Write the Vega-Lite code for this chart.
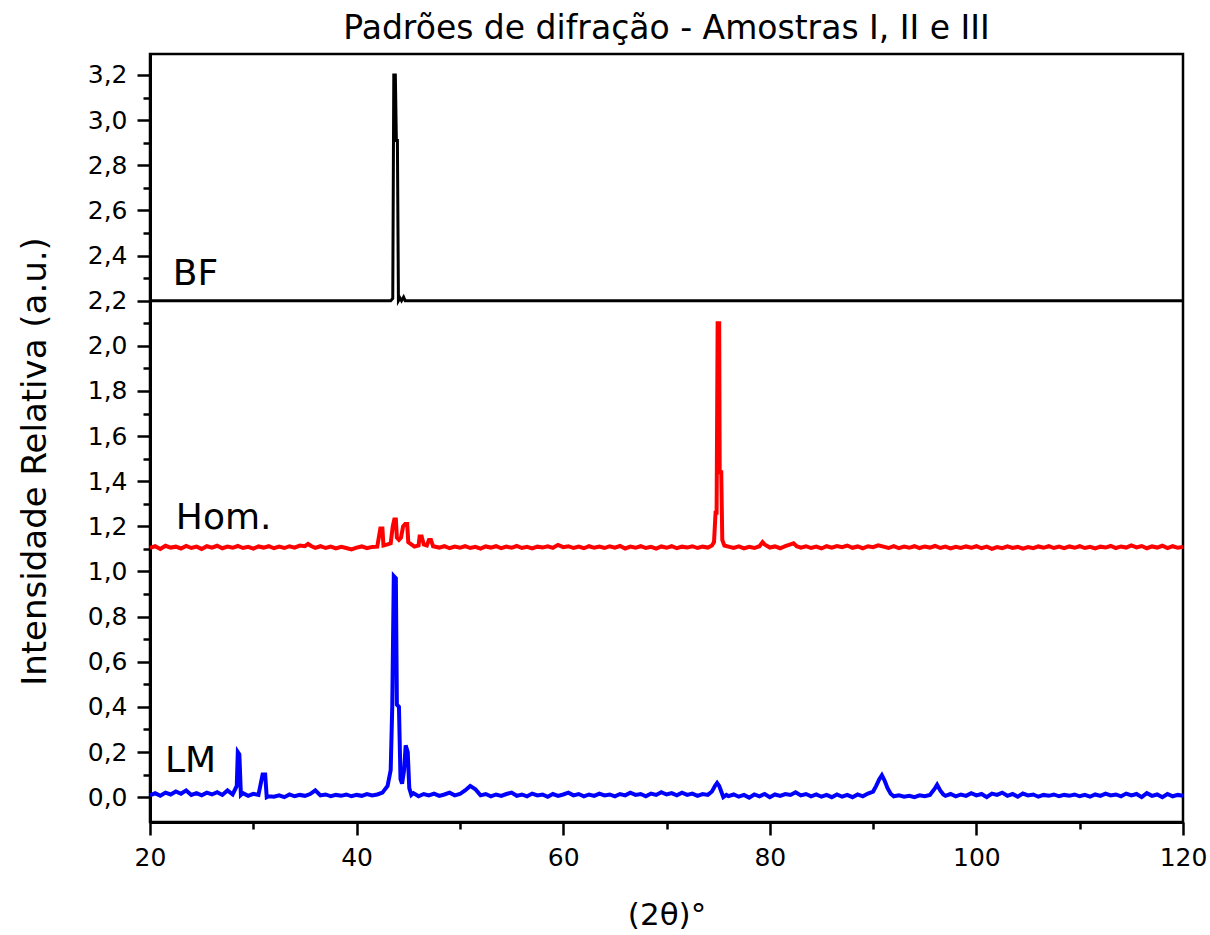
{
  "$schema": "https://vega.github.io/schema/vega-lite/v6.json",
  "width": 1033,
  "height": 768,
  "autosize": {"type": "none"},
  "padding": {"left": 150, "top": 54, "right": 27, "bottom": 113},
  "background": "white",
  "title": {"text": "Padrões de difração - Amostras I, II e III", "fontSize": 33, "font": "DejaVu Sans", "fontWeight": "normal", "color": "black", "anchor": "middle", "offset": 8},
  "datasets": {
    "bf": [
      {"x": 20, "y": 2.2}, {"x": 43.3, "y": 2.2}, {"x": 43.5, "y": 2.21}, {"x": 43.6, "y": 3.2}, {"x": 43.75, "y": 3.2}, {"x": 43.85, "y": 2.91}, {"x": 43.95, "y": 2.91}, {"x": 44.05, "y": 2.2}, {"x": 44.2, "y": 2.212}, {"x": 44.35, "y": 2.2}, {"x": 44.55, "y": 2.216}, {"x": 44.7, "y": 2.2}, {"x": 120, "y": 2.2}
    ],
    "hom": [
      {"x": 20, "y": 1.105}, {"x": 20.5, "y": 1.112}, {"x": 21, "y": 1.1}, {"x": 21.5, "y": 1.114}, {"x": 22, "y": 1.106}, {"x": 22.5, "y": 1.11}, {"x": 23, "y": 1.102}, {"x": 23.5, "y": 1.113}, {"x": 24, "y": 1.104}, {"x": 24.5, "y": 1.11}, {"x": 25, "y": 1.1}, {"x": 25.5, "y": 1.112}, {"x": 26, "y": 1.106}, {"x": 26.5, "y": 1.114}, {"x": 27, "y": 1.103}, {"x": 27.5, "y": 1.11}, {"x": 28, "y": 1.105}, {"x": 28.5, "y": 1.113}, {"x": 29, "y": 1.104}, {"x": 29.5, "y": 1.109}, {"x": 30, "y": 1.101}, {"x": 30.5, "y": 1.111}, {"x": 31, "y": 1.106}, {"x": 31.5, "y": 1.112}, {"x": 32, "y": 1.103}, {"x": 32.5, "y": 1.11}, {"x": 33, "y": 1.104}, {"x": 33.5, "y": 1.112}, {"x": 34, "y": 1.106}, {"x": 34.5, "y": 1.115}, {"x": 35, "y": 1.112}, {"x": 35.3, "y": 1.122}, {"x": 35.6, "y": 1.113}, {"x": 36, "y": 1.105}, {"x": 36.5, "y": 1.112}, {"x": 37, "y": 1.104}, {"x": 37.5, "y": 1.11}, {"x": 38, "y": 1.102}, {"x": 38.5, "y": 1.109}, {"x": 39, "y": 1.104}, {"x": 39.5, "y": 1.098}, {"x": 40, "y": 1.106}, {"x": 40.5, "y": 1.111}, {"x": 41, "y": 1.103}, {"x": 41.5, "y": 1.109}, {"x": 42, "y": 1.11}, {"x": 42.3, "y": 1.19}, {"x": 42.5, "y": 1.19}, {"x": 42.6, "y": 1.115}, {"x": 43, "y": 1.12}, {"x": 43.3, "y": 1.125}, {"x": 43.5, "y": 1.2}, {"x": 43.65, "y": 1.23}, {"x": 43.8, "y": 1.23}, {"x": 43.9, "y": 1.15}, {"x": 44.1, "y": 1.14}, {"x": 44.3, "y": 1.15}, {"x": 44.5, "y": 1.2}, {"x": 44.7, "y": 1.21}, {"x": 44.9, "y": 1.21}, {"x": 45, "y": 1.13}, {"x": 45.3, "y": 1.12}, {"x": 45.6, "y": 1.11}, {"x": 46, "y": 1.115}, {"x": 46.1, "y": 1.155}, {"x": 46.3, "y": 1.155}, {"x": 46.5, "y": 1.12}, {"x": 46.8, "y": 1.115}, {"x": 47, "y": 1.14}, {"x": 47.2, "y": 1.14}, {"x": 47.4, "y": 1.112}, {"x": 48, "y": 1.106}, {"x": 48.5, "y": 1.112}, {"x": 49, "y": 1.103}, {"x": 49.5, "y": 1.11}, {"x": 50, "y": 1.105}, {"x": 50.5, "y": 1.112}, {"x": 51, "y": 1.104}, {"x": 51.5, "y": 1.109}, {"x": 52, "y": 1.101}, {"x": 52.5, "y": 1.111}, {"x": 53, "y": 1.106}, {"x": 53.5, "y": 1.112}, {"x": 54, "y": 1.103}, {"x": 54.5, "y": 1.11}, {"x": 55, "y": 1.105}, {"x": 55.5, "y": 1.113}, {"x": 56, "y": 1.104}, {"x": 56.5, "y": 1.109}, {"x": 57, "y": 1.102}, {"x": 57.5, "y": 1.11}, {"x": 58, "y": 1.106}, {"x": 58.5, "y": 1.112}, {"x": 59, "y": 1.105}, {"x": 59.5, "y": 1.118}, {"x": 60, "y": 1.108}, {"x": 60.5, "y": 1.112}, {"x": 61, "y": 1.104}, {"x": 61.5, "y": 1.11}, {"x": 62, "y": 1.103}, {"x": 62.5, "y": 1.112}, {"x": 63, "y": 1.105}, {"x": 63.5, "y": 1.11}, {"x": 64, "y": 1.104}, {"x": 64.5, "y": 1.112}, {"x": 65, "y": 1.106}, {"x": 65.5, "y": 1.113}, {"x": 66, "y": 1.102}, {"x": 66.5, "y": 1.11}, {"x": 67, "y": 1.105}, {"x": 67.5, "y": 1.112}, {"x": 68, "y": 1.104}, {"x": 68.5, "y": 1.109}, {"x": 69, "y": 1.101}, {"x": 69.5, "y": 1.111}, {"x": 70, "y": 1.105}, {"x": 70.5, "y": 1.112}, {"x": 71, "y": 1.103}, {"x": 71.5, "y": 1.11}, {"x": 72, "y": 1.106}, {"x": 72.5, "y": 1.112}, {"x": 73, "y": 1.104}, {"x": 73.5, "y": 1.11}, {"x": 74, "y": 1.106}, {"x": 74.4, "y": 1.115}, {"x": 74.6, "y": 1.13}, {"x": 74.75, "y": 1.26}, {"x": 74.85, "y": 1.26}, {"x": 74.95, "y": 2.1}, {"x": 75.1, "y": 2.1}, {"x": 75.15, "y": 1.44}, {"x": 75.3, "y": 1.44}, {"x": 75.4, "y": 1.14}, {"x": 75.6, "y": 1.115}, {"x": 76, "y": 1.11}, {"x": 76.5, "y": 1.104}, {"x": 77, "y": 1.111}, {"x": 77.5, "y": 1.102}, {"x": 78, "y": 1.109}, {"x": 78.5, "y": 1.104}, {"x": 79, "y": 1.112}, {"x": 79.3, "y": 1.13}, {"x": 79.5, "y": 1.12}, {"x": 80, "y": 1.106}, {"x": 80.5, "y": 1.111}, {"x": 81, "y": 1.103}, {"x": 81.5, "y": 1.112}, {"x": 82, "y": 1.12}, {"x": 82.3, "y": 1.125}, {"x": 82.6, "y": 1.112}, {"x": 83, "y": 1.106}, {"x": 83.5, "y": 1.112}, {"x": 84, "y": 1.104}, {"x": 84.5, "y": 1.11}, {"x": 85, "y": 1.102}, {"x": 85.5, "y": 1.112}, {"x": 86, "y": 1.106}, {"x": 86.5, "y": 1.113}, {"x": 87, "y": 1.108}, {"x": 87.5, "y": 1.115}, {"x": 88, "y": 1.105}, {"x": 88.5, "y": 1.111}, {"x": 89, "y": 1.103}, {"x": 89.5, "y": 1.112}, {"x": 90, "y": 1.108}, {"x": 90.5, "y": 1.116}, {"x": 91, "y": 1.11}, {"x": 91.5, "y": 1.104}, {"x": 92, "y": 1.112}, {"x": 92.5, "y": 1.103}, {"x": 93, "y": 1.11}, {"x": 93.5, "y": 1.105}, {"x": 94, "y": 1.112}, {"x": 94.5, "y": 1.104}, {"x": 95, "y": 1.111}, {"x": 95.5, "y": 1.106}, {"x": 96, "y": 1.113}, {"x": 96.5, "y": 1.104}, {"x": 97, "y": 1.11}, {"x": 97.5, "y": 1.102}, {"x": 98, "y": 1.109}, {"x": 98.5, "y": 1.104}, {"x": 99, "y": 1.111}, {"x": 99.5, "y": 1.105}, {"x": 100, "y": 1.112}, {"x": 100.5, "y": 1.103}, {"x": 101, "y": 1.11}, {"x": 101.5, "y": 1.1}, {"x": 102, "y": 1.108}, {"x": 102.5, "y": 1.103}, {"x": 103, "y": 1.111}, {"x": 103.5, "y": 1.104}, {"x": 104, "y": 1.109}, {"x": 104.5, "y": 1.101}, {"x": 105, "y": 1.108}, {"x": 105.5, "y": 1.103}, {"x": 106, "y": 1.111}, {"x": 106.5, "y": 1.105}, {"x": 107, "y": 1.112}, {"x": 107.5, "y": 1.104}, {"x": 108, "y": 1.11}, {"x": 108.5, "y": 1.103}, {"x": 109, "y": 1.111}, {"x": 109.5, "y": 1.105}, {"x": 110, "y": 1.112}, {"x": 110.5, "y": 1.104}, {"x": 111, "y": 1.109}, {"x": 111.5, "y": 1.102}, {"x": 112, "y": 1.11}, {"x": 112.5, "y": 1.106}, {"x": 113, "y": 1.113}, {"x": 113.5, "y": 1.104}, {"x": 114, "y": 1.111}, {"x": 114.5, "y": 1.106}, {"x": 115, "y": 1.116}, {"x": 115.5, "y": 1.107}, {"x": 116, "y": 1.113}, {"x": 116.5, "y": 1.103}, {"x": 117, "y": 1.111}, {"x": 117.5, "y": 1.106}, {"x": 118, "y": 1.114}, {"x": 118.5, "y": 1.104}, {"x": 119, "y": 1.112}, {"x": 119.5, "y": 1.105}, {"x": 120, "y": 1.109}
    ],
    "lm": [
      {"x": 20, "y": 0.008}, {"x": 20.5, "y": 0.018}, {"x": 21, "y": 0.006}, {"x": 21.5, "y": 0.02}, {"x": 22, "y": 0.012}, {"x": 22.5, "y": 0.025}, {"x": 23, "y": 0.015}, {"x": 23.5, "y": 0.03}, {"x": 24, "y": 0.01}, {"x": 24.5, "y": 0.018}, {"x": 25, "y": 0.008}, {"x": 25.5, "y": 0.02}, {"x": 26, "y": 0.012}, {"x": 26.5, "y": 0.022}, {"x": 27, "y": 0.01}, {"x": 27.5, "y": 0.03}, {"x": 28, "y": 0.012}, {"x": 28.4, "y": 0.05}, {"x": 28.5, "y": 0.2}, {"x": 28.65, "y": 0.19}, {"x": 28.8, "y": 0.01}, {"x": 29, "y": 0.018}, {"x": 29.5, "y": 0.006}, {"x": 30, "y": 0.015}, {"x": 30.5, "y": 0.01}, {"x": 30.9, "y": 0.1}, {"x": 31.15, "y": 0.1}, {"x": 31.3, "y": 0.0}, {"x": 31.5, "y": 0.004}, {"x": 32, "y": 0.002}, {"x": 32.5, "y": 0.008}, {"x": 33, "y": 0.0}, {"x": 33.5, "y": 0.012}, {"x": 34, "y": 0.004}, {"x": 34.5, "y": 0.01}, {"x": 35, "y": 0.006}, {"x": 35.5, "y": 0.014}, {"x": 36, "y": 0.03}, {"x": 36.5, "y": 0.008}, {"x": 37, "y": 0.012}, {"x": 37.5, "y": 0.004}, {"x": 38, "y": 0.01}, {"x": 38.5, "y": 0.006}, {"x": 39, "y": 0.012}, {"x": 39.5, "y": 0.004}, {"x": 40, "y": 0.01}, {"x": 40.5, "y": 0.006}, {"x": 41, "y": 0.014}, {"x": 41.5, "y": 0.008}, {"x": 42, "y": 0.012}, {"x": 42.5, "y": 0.02}, {"x": 43, "y": 0.05}, {"x": 43.3, "y": 0.12}, {"x": 43.45, "y": 0.4}, {"x": 43.6, "y": 0.98}, {"x": 43.8, "y": 0.97}, {"x": 43.9, "y": 0.41}, {"x": 44.1, "y": 0.4}, {"x": 44.25, "y": 0.08}, {"x": 44.4, "y": 0.06}, {"x": 44.6, "y": 0.12}, {"x": 44.75, "y": 0.23}, {"x": 44.95, "y": 0.2}, {"x": 45.1, "y": 0.04}, {"x": 45.3, "y": 0.01}, {"x": 45.5, "y": 0.018}, {"x": 46, "y": 0.004}, {"x": 46.5, "y": 0.014}, {"x": 47, "y": 0.008}, {"x": 47.5, "y": 0.016}, {"x": 48, "y": 0.006}, {"x": 48.5, "y": 0.012}, {"x": 49, "y": 0.02}, {"x": 49.5, "y": 0.008}, {"x": 50, "y": 0.014}, {"x": 50.5, "y": 0.03}, {"x": 51, "y": 0.05}, {"x": 51.5, "y": 0.035}, {"x": 52, "y": 0.008}, {"x": 52.5, "y": 0.014}, {"x": 53, "y": 0.004}, {"x": 53.5, "y": 0.012}, {"x": 54, "y": 0.006}, {"x": 54.5, "y": 0.014}, {"x": 55, "y": 0.02}, {"x": 55.5, "y": 0.006}, {"x": 56, "y": 0.012}, {"x": 56.5, "y": 0.004}, {"x": 57, "y": 0.016}, {"x": 57.5, "y": 0.008}, {"x": 58, "y": 0.012}, {"x": 58.5, "y": 0.002}, {"x": 59, "y": 0.014}, {"x": 59.5, "y": 0.006}, {"x": 60, "y": 0.012}, {"x": 60.5, "y": 0.02}, {"x": 61, "y": 0.008}, {"x": 61.5, "y": 0.014}, {"x": 62, "y": 0.004}, {"x": 62.5, "y": 0.012}, {"x": 63, "y": 0.006}, {"x": 63.5, "y": 0.016}, {"x": 64, "y": 0.008}, {"x": 64.5, "y": 0.012}, {"x": 65, "y": 0.004}, {"x": 65.5, "y": 0.014}, {"x": 66, "y": 0.008}, {"x": 66.5, "y": 0.02}, {"x": 67, "y": 0.01}, {"x": 67.5, "y": 0.014}, {"x": 68, "y": 0.004}, {"x": 68.5, "y": 0.016}, {"x": 69, "y": 0.01}, {"x": 69.5, "y": 0.022}, {"x": 70, "y": 0.012}, {"x": 70.5, "y": 0.018}, {"x": 71, "y": 0.008}, {"x": 71.5, "y": 0.02}, {"x": 72, "y": 0.01}, {"x": 72.5, "y": 0.016}, {"x": 73, "y": 0.006}, {"x": 73.5, "y": 0.014}, {"x": 74, "y": 0.01}, {"x": 74.4, "y": 0.025}, {"x": 74.7, "y": 0.05}, {"x": 74.9, "y": 0.063}, {"x": 75.1, "y": 0.05}, {"x": 75.3, "y": 0.025}, {"x": 75.5, "y": 0.0}, {"x": 75.8, "y": 0.01}, {"x": 76, "y": 0.005}, {"x": 76.5, "y": 0.012}, {"x": 77, "y": 0.002}, {"x": 77.5, "y": 0.01}, {"x": 78, "y": -0.002}, {"x": 78.5, "y": 0.012}, {"x": 79, "y": 0.004}, {"x": 79.5, "y": 0.014}, {"x": 80, "y": 0.0}, {"x": 80.5, "y": 0.012}, {"x": 81, "y": 0.006}, {"x": 81.5, "y": 0.014}, {"x": 82, "y": 0.01}, {"x": 82.5, "y": 0.022}, {"x": 83, "y": 0.008}, {"x": 83.5, "y": 0.014}, {"x": 84, "y": 0.004}, {"x": 84.5, "y": 0.012}, {"x": 85, "y": 0.002}, {"x": 85.5, "y": 0.01}, {"x": 86, "y": 0.0}, {"x": 86.5, "y": 0.012}, {"x": 87, "y": 0.002}, {"x": 87.5, "y": 0.01}, {"x": 88, "y": 0.0}, {"x": 88.5, "y": 0.012}, {"x": 89, "y": 0.004}, {"x": 89.5, "y": 0.016}, {"x": 90, "y": 0.025}, {"x": 90.3, "y": 0.05}, {"x": 90.6, "y": 0.08}, {"x": 90.85, "y": 0.097}, {"x": 91.1, "y": 0.075}, {"x": 91.4, "y": 0.04}, {"x": 91.7, "y": 0.015}, {"x": 92, "y": 0.004}, {"x": 92.5, "y": 0.008}, {"x": 93, "y": 0.002}, {"x": 93.5, "y": 0.006}, {"x": 94, "y": 0.0}, {"x": 94.5, "y": 0.008}, {"x": 95, "y": 0.004}, {"x": 95.5, "y": 0.01}, {"x": 96, "y": 0.04}, {"x": 96.2, "y": 0.055}, {"x": 96.5, "y": 0.03}, {"x": 96.8, "y": 0.012}, {"x": 97, "y": 0.006}, {"x": 97.5, "y": 0.014}, {"x": 98, "y": 0.004}, {"x": 98.5, "y": 0.012}, {"x": 99, "y": 0.006}, {"x": 99.5, "y": 0.018}, {"x": 100, "y": 0.008}, {"x": 100.5, "y": 0.014}, {"x": 101, "y": 0.0}, {"x": 101.5, "y": 0.016}, {"x": 102, "y": 0.01}, {"x": 102.5, "y": 0.02}, {"x": 103, "y": 0.006}, {"x": 103.5, "y": 0.014}, {"x": 104, "y": 0.002}, {"x": 104.5, "y": 0.016}, {"x": 105, "y": 0.008}, {"x": 105.5, "y": 0.012}, {"x": 106, "y": 0.002}, {"x": 106.5, "y": 0.01}, {"x": 107, "y": 0.006}, {"x": 107.5, "y": 0.012}, {"x": 108, "y": 0.004}, {"x": 108.5, "y": 0.01}, {"x": 109, "y": 0.006}, {"x": 109.5, "y": 0.012}, {"x": 110, "y": 0.004}, {"x": 110.5, "y": 0.01}, {"x": 111, "y": 0.002}, {"x": 111.5, "y": 0.012}, {"x": 112, "y": 0.006}, {"x": 112.5, "y": 0.016}, {"x": 113, "y": 0.008}, {"x": 113.5, "y": 0.012}, {"x": 114, "y": 0.004}, {"x": 114.5, "y": 0.016}, {"x": 115, "y": 0.008}, {"x": 115.5, "y": 0.014}, {"x": 116, "y": 0.0}, {"x": 116.5, "y": 0.018}, {"x": 117, "y": 0.006}, {"x": 117.5, "y": 0.012}, {"x": 118, "y": 0.0}, {"x": 118.5, "y": 0.014}, {"x": 119, "y": 0.004}, {"x": 119.5, "y": 0.01}, {"x": 120, "y": 0.006}
    ],
    "labels": [
      {"x": 22.2, "y": 2.27, "label": "BF"},
      {"x": 22.5, "y": 1.19, "label": "Hom."},
      {"x": 21.45, "y": 0.112, "label": "LM"}
    ]
  },
  "encoding": {
    "x": {
      "field": "x", "type": "quantitative",
      "scale": {"domain": [20, 120], "nice": false, "zero": false},
      "axis": {
        "values": [20, 30, 40, 50, 60, 70, 80, 90, 100, 110, 120],
        "labelExpr": "datum.value % 20 == 0 ? datum.label : ''",
        "labelFlush": false,
        "tickSize": {"condition": {"test": "datum.value % 20 == 0", "value": 13}, "value": 7},
        "title": "(2θ)°",
        "titleY": 93,
        "titleBaseline": "middle",
        "titleFontSize": 31,
        "labelPadding": 10
      }
    },
    "y": {
      "field": "y", "type": "quantitative",
      "scale": {"domain": [-0.11, 3.293], "nice": false, "zero": false},
      "axis": {
        "values": [0, 0.1, 0.2, 0.3, 0.4, 0.5, 0.6, 0.7, 0.8, 0.9, 1.0, 1.1, 1.2, 1.3, 1.4, 1.5, 1.6, 1.7, 1.8, 1.9, 2.0, 2.1, 2.2, 2.3, 2.4, 2.5, 2.6, 2.7, 2.8, 2.9, 3.0, 3.1, 3.2],
        "labelExpr": "round(datum.value * 10) % 2 == 0 ? replace(format(datum.value, '.1f'), '.', ',') : ''",
        "labelFlush": false,
        "tickSize": {"condition": {"test": "round(datum.value * 10) % 2 == 0", "value": 13}, "value": 7},
        "title": "Intensidade Relativa (a.u.)",
        "titleX": -115,
        "titleY": 407,
        "titleAngle": 270,
        "titleAlign": "center",
        "titleBaseline": "middle",
        "titleFontSize": 34,
        "labelPadding": 10
      }
    }
  },
  "layer": [
    {"data": {"name": "hom"}, "mark": {"type": "line", "color": "#ff0000", "strokeWidth": 4, "interpolate": "linear"}},
    {"data": {"name": "lm"}, "mark": {"type": "line", "color": "#0000ff", "strokeWidth": 4, "interpolate": "linear"}},
    {"data": {"name": "bf"}, "mark": {"type": "line", "color": "#000000", "strokeWidth": 3, "interpolate": "linear"}},
    {"data": {"name": "labels"}, "mark": {"type": "text", "align": "left", "baseline": "alphabetic", "fontSize": 36, "font": "DejaVu Sans", "color": "black"}, "encoding": {"text": {"field": "label"}}}
  ],
  "config": {
    "font": "DejaVu Sans",
    "view": {"stroke": "#000000", "strokeWidth": 2.5},
    "axis": {
      "grid": false,
      "domainColor": "#000000",
      "domainWidth": 3,
      "tickColor": "#000000",
      "tickWidth": 2.5,
      "labelColor": "#000000",
      "labelFontSize": 25,
      "labelFont": "DejaVu Sans",
      "titleFont": "DejaVu Sans",
      "titleColor": "#000000",
      "titleFontWeight": "normal"
    }
  }
}
